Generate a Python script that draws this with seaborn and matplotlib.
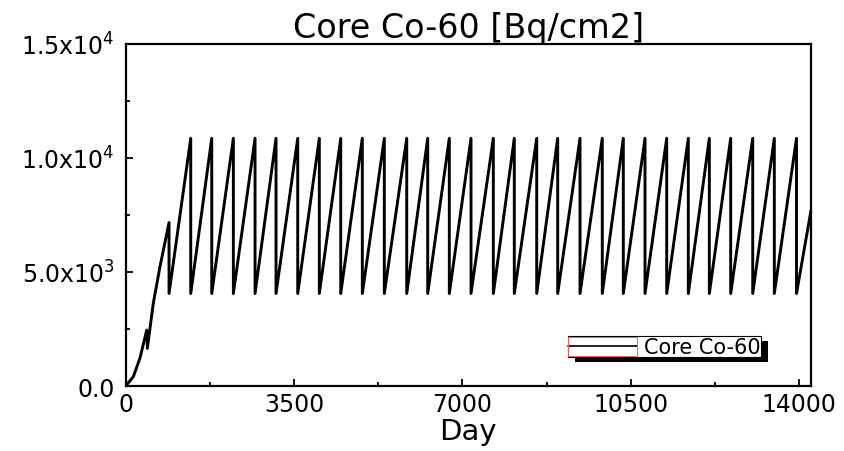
import pandas as pd
import matplotlib
matplotlib.use("Agg")
import matplotlib.pyplot as plt
import matplotlib.patches as mpatches
import matplotlib.transforms as mtransforms
from matplotlib.ticker import FixedLocator
import seaborn as sns

# values
# start-up part (before the regular sawtooth)
early_days = [0, 158, 297, 436, 449, 574, 712, 900, 900]
early_vals = [0, 410, 1230, 2450, 1650, 3640, 5230, 7160, 4050]

# regular cycle peaks (day of each peak / drop)
peak_days = [1351, 1788, 2237, 2688, 3124, 3575, 4024, 4469, 4918, 5375,
             5841, 6277, 6726, 7177, 7641, 8077, 8543, 8979, 9443, 9906,
             10343, 10794, 11245, 11694, 12131, 12575, 13033, 13482, 13943]
peak_val = 10850
trough_val = 4050

end_day = 14245
end_val = 7700

xticks = [0, 3500, 7000, 10500, 14000]
xtick_labels = ["0", "3500", "7000", "10500", "14000"]
yticks = [0, 5000, 10000, 15000]
ytick_labels = ["0.0", r"5.0x10$^3$", r"1.0x10$^4$", r"1.5x10$^4$"]

# build the polyline: rise to each peak, then drop straight down
days = list(early_days)
vals = list(early_vals)
for d in peak_days:
    days += [d, d]
    vals += [peak_val, trough_val]
days.append(end_day)
vals.append(end_val)
df = pd.DataFrame({"Day": days, "Co60": vals, "series": "Core Co-60"})

sns.set_style("ticks")
plt.rcParams["font.family"] = ["DejaVu Sans"]
plt.rcParams["mathtext.fontset"] = "dejavusans"
plt.rcParams["text.color"] = "black"
plt.rcParams["axes.labelcolor"] = "black"
plt.rcParams["xtick.color"] = "black"
plt.rcParams["ytick.color"] = "black"

fig = plt.figure(figsize=(8.45, 4.52), dpi=100)
ax = fig.add_axes([0.1488, 0.1438, 0.8110, 0.7577])

sns.lineplot(data=df, x="Day", y="Co60", hue="series", palette=["black"],
             sort=False, estimator=None, linewidth=2.1, ax=ax)

ax.set_xlim(0, end_day)
ax.set_ylim(0, 15000)
ax.set_xticks(xticks)
ax.set_xticklabels(xtick_labels)
ax.set_yticks(yticks)
ax.set_yticklabels(ytick_labels)
ax.xaxis.set_minor_locator(FixedLocator([1750, 5250, 8750, 12250]))
ax.yaxis.set_minor_locator(FixedLocator([2500, 7500, 12500]))
ax.tick_params(axis="both", which="major", direction="in", length=5, width=1.3,
               labelsize=17, colors="black")
ax.tick_params(axis="both", which="minor", direction="in", length=3, width=1.3,
               colors="black")
ax.tick_params(axis="x", which="major", pad=4)
ax.tick_params(axis="y", which="major", pad=8)
for s in ax.spines.values():
    s.set_linewidth(1.6)
    s.set_color("black")
    s.set_visible(True)

ax.set_xlabel("Day", fontsize=21, labelpad=1, color="black")
ax.set_ylabel("")
ax.set_title("Core Co-60 [Bq/cm2]", fontsize=24, pad=4, color="black")

leg = ax.legend(loc="lower right", bbox_to_anchor=(0.927, 0.084), borderaxespad=0,
                fontsize=15, frameon=True, fancybox=False, edgecolor="black",
                framealpha=1, handlelength=3.3, handletextpad=0.35, borderpad=0.02)
leg.get_frame().set_linewidth(0.8)
for t in leg.get_texts():
    t.set_color("black")
for h in leg.get_lines():
    h.set_linewidth(1.2)

# solid black drop shadow behind the legend box, thin red box round the sample
fig.canvas.draw()
bb = leg.get_window_extent()
shadow = mpatches.Rectangle((bb.x0 + 7, bb.y0 - 5), bb.width, bb.height,
                            transform=mtransforms.IdentityTransform(),
                            facecolor="black", edgecolor="none",
                            zorder=leg.get_zorder() - 0.1)
ax.add_artist(shadow)
shadow.set_clip_on(False)
hb = leg.get_lines()[0].get_window_extent()
redbox = mpatches.Rectangle((hb.x0, bb.y0 + 1), hb.width, bb.height - 2,
                            transform=mtransforms.IdentityTransform(),
                            facecolor="none", edgecolor="#e06666", linewidth=0.7,
                            zorder=leg.get_zorder() + 0.1)
ax.add_artist(redbox)
redbox.set_clip_on(False)

fig.savefig("out.png", dpi=100)
